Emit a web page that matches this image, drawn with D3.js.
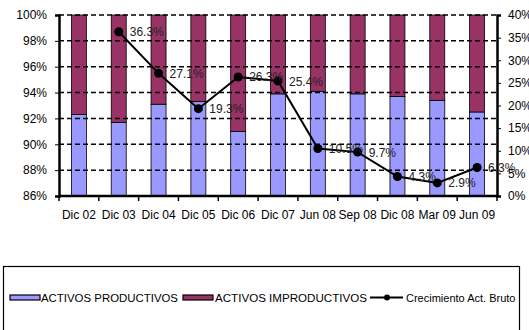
<!DOCTYPE html>
<html><head><meta charset="utf-8">
<script src="https://cdn.jsdelivr.net/npm/d3@7"></script>
<style>body{margin:0;background:#fff}svg{display:block;font-family:"Liberation Sans",Arial,sans-serif}</style>
</head><body><svg id="c" width="529" height="330"></svg>
<script>
const categories = ["Dic 02","Dic 03","Dic 04","Dic 05","Dic 06","Dic 07","Jun 08","Sep 08","Dic 08","Mar 09","Jun 09"];
const productivos = [92.3,91.7,93.1,93.3,91.0,93.9,94.1,93.9,93.7,93.4,92.5];
const improductivos = productivos.map(v => +(100 - v).toFixed(1));
const crecimiento = [null,36.3,27.1,19.3,26.3,25.4,10.5,9.7,4.3,2.9,6.3];
const leftTicks = [86,88,90,92,94,96,98,100];
const rightTicks = [0,5,10,15,20,25,30,35,40];
const seriesNames = ["ACTIVOS PRODUCTIVOS","ACTIVOS IMPRODUCTIVOS","Crecimiento Act. Bruto"];
const colors = ["#9999FF","#993366","#000000"];

const svg = d3.select("#c");
const L = 59, R = 497, T = 15, B = 196;
const x = d3.scaleBand().domain(categories).range([L, R]).paddingInner(0.62).paddingOuter(0.31);
const xb = d3.scaleBand().domain(categories).range([L, R]);
const yL = d3.scaleLinear().domain([86,100]).range([B, T]);
const yR = d3.scaleLinear().domain([0,40]).range([B, T]);

// bars
const g = svg.append("g");
categories.forEach((c,i) => {
  const cx = xb(c) + xb.bandwidth()/2, w = 15;
  g.append("rect").attr("x", cx - w/2).attr("width", w)
    .attr("y", yL(productivos[i])).attr("height", yL(86) - yL(productivos[i]))
    .attr("fill", colors[0]).attr("stroke","#000").attr("stroke-width",0.8);
  g.append("rect").attr("x", cx - w/2).attr("width", w)
    .attr("y", yL(100)).attr("height", yL(productivos[i]) - yL(100))
    .attr("fill", colors[1]).attr("stroke","#000").attr("stroke-width",0.8);
});

// gridlines
svg.append("g").selectAll("line").data(leftTicks.filter(t=>t>86)).join("line")
  .attr("x1", L).attr("x2", R).attr("y1", d=>yL(d)).attr("y2", d=>yL(d))
  .attr("stroke","#000").attr("stroke-width",1.5).attr("stroke-dasharray","5,3");

// left axis
const ax = svg.append("g").attr("transform",`translate(${L},0)`)
  .call(d3.axisLeft(yL).tickValues(leftTicks).tickFormat(d=>d+"%").tickSize(4).tickPadding(8));
ax.select(".domain").attr("stroke-width",2.5);
ax.selectAll("text").attr("font-size",12).attr("font-family","Liberation Sans, Arial").attr("fill","#000");

// right axis
const ar = svg.append("g").attr("transform",`translate(${R},0)`)
  .call(d3.axisRight(yR).tickValues(rightTicks).tickFormat(d=>d+"%").tickSize(4).tickPadding(7));
ar.select(".domain").attr("stroke-width",2.5);
ar.selectAll("text").attr("font-size",12).attr("font-family","Liberation Sans, Arial").attr("fill","#000");

// bottom axis
const ab = svg.append("g").attr("transform",`translate(0,${B})`)
  .call(d3.axisBottom(xb).tickSize(0).tickPadding(14));
ab.select(".domain").attr("stroke-width",2.5).attr("d",`M${L},0H${R}`);
ab.selectAll("text").attr("font-size",12).attr("font-family","Liberation Sans, Arial").attr("fill","#000");
svg.append("g").selectAll("line").data(d3.range(categories.length+1)).join("line")
  .attr("x1", i=>L + i*xb.step()).attr("x2", i=>L + i*xb.step())
  .attr("y1", B).attr("y2", B+5).attr("stroke","#000").attr("stroke-width",1.5);

// line
const pts = categories.map((c,i)=>({c, v:crecimiento[i]})).filter(d=>d.v!=null);
const cxf = c => xb(c) + xb.bandwidth()/2;
svg.append("path").datum(pts)
  .attr("d", d3.line().x(d=>cxf(d.c)).y(d=>yR(d.v)))
  .attr("fill","none").attr("stroke","#000").attr("stroke-width",2);
svg.append("g").selectAll("circle").data(pts).join("circle")
  .attr("cx", d=>cxf(d.c)).attr("cy", d=>yR(d.v)).attr("r",4.5).attr("fill","#000");
svg.append("g").selectAll("text").data(pts).join("text")
  .attr("x", d=>cxf(d.c)+11).attr("y", d=>yR(d.v)+4.5)
  .attr("font-size",12).attr("fill","#222").text(d=>d.v.toFixed(1)+"%");

// legend
svg.append("rect").attr("x",3.5).attr("y",266.5).attr("width",516).attr("height",70)
  .attr("fill","none").attr("stroke","#000").attr("stroke-width",1.2);
const ly = 298;
const lg = svg.append("g");
lg.append("rect").attr("x",10).attr("y",ly-3).attr("width",30).attr("height",5)
  .attr("fill",colors[0]).attr("stroke","#000").attr("stroke-width",1.2);
lg.append("text").attr("x",41).attr("y",ly+4).attr("font-size",11).attr("textLength",137).attr("lengthAdjust","spacingAndGlyphs").text(seriesNames[0]);
lg.append("rect").attr("x",183).attr("y",ly-3).attr("width",30).attr("height",5)
  .attr("fill",colors[1]).attr("stroke","#000").attr("stroke-width",1.2);
lg.append("text").attr("x",215).attr("y",ly+4).attr("font-size",11).attr("textLength",152).attr("lengthAdjust","spacingAndGlyphs").text(seriesNames[1]);
lg.append("line").attr("x1",370).attr("x2",403).attr("y1",ly-0.5).attr("y2",ly-0.5).attr("stroke","#000").attr("stroke-width",2);
lg.append("circle").attr("cx",387).attr("cy",ly-0.5).attr("r",3).attr("fill","#000");
lg.append("text").attr("x",406).attr("y",ly+4).attr("font-size",11).text(seriesNames[2]);
</script></body></html>
